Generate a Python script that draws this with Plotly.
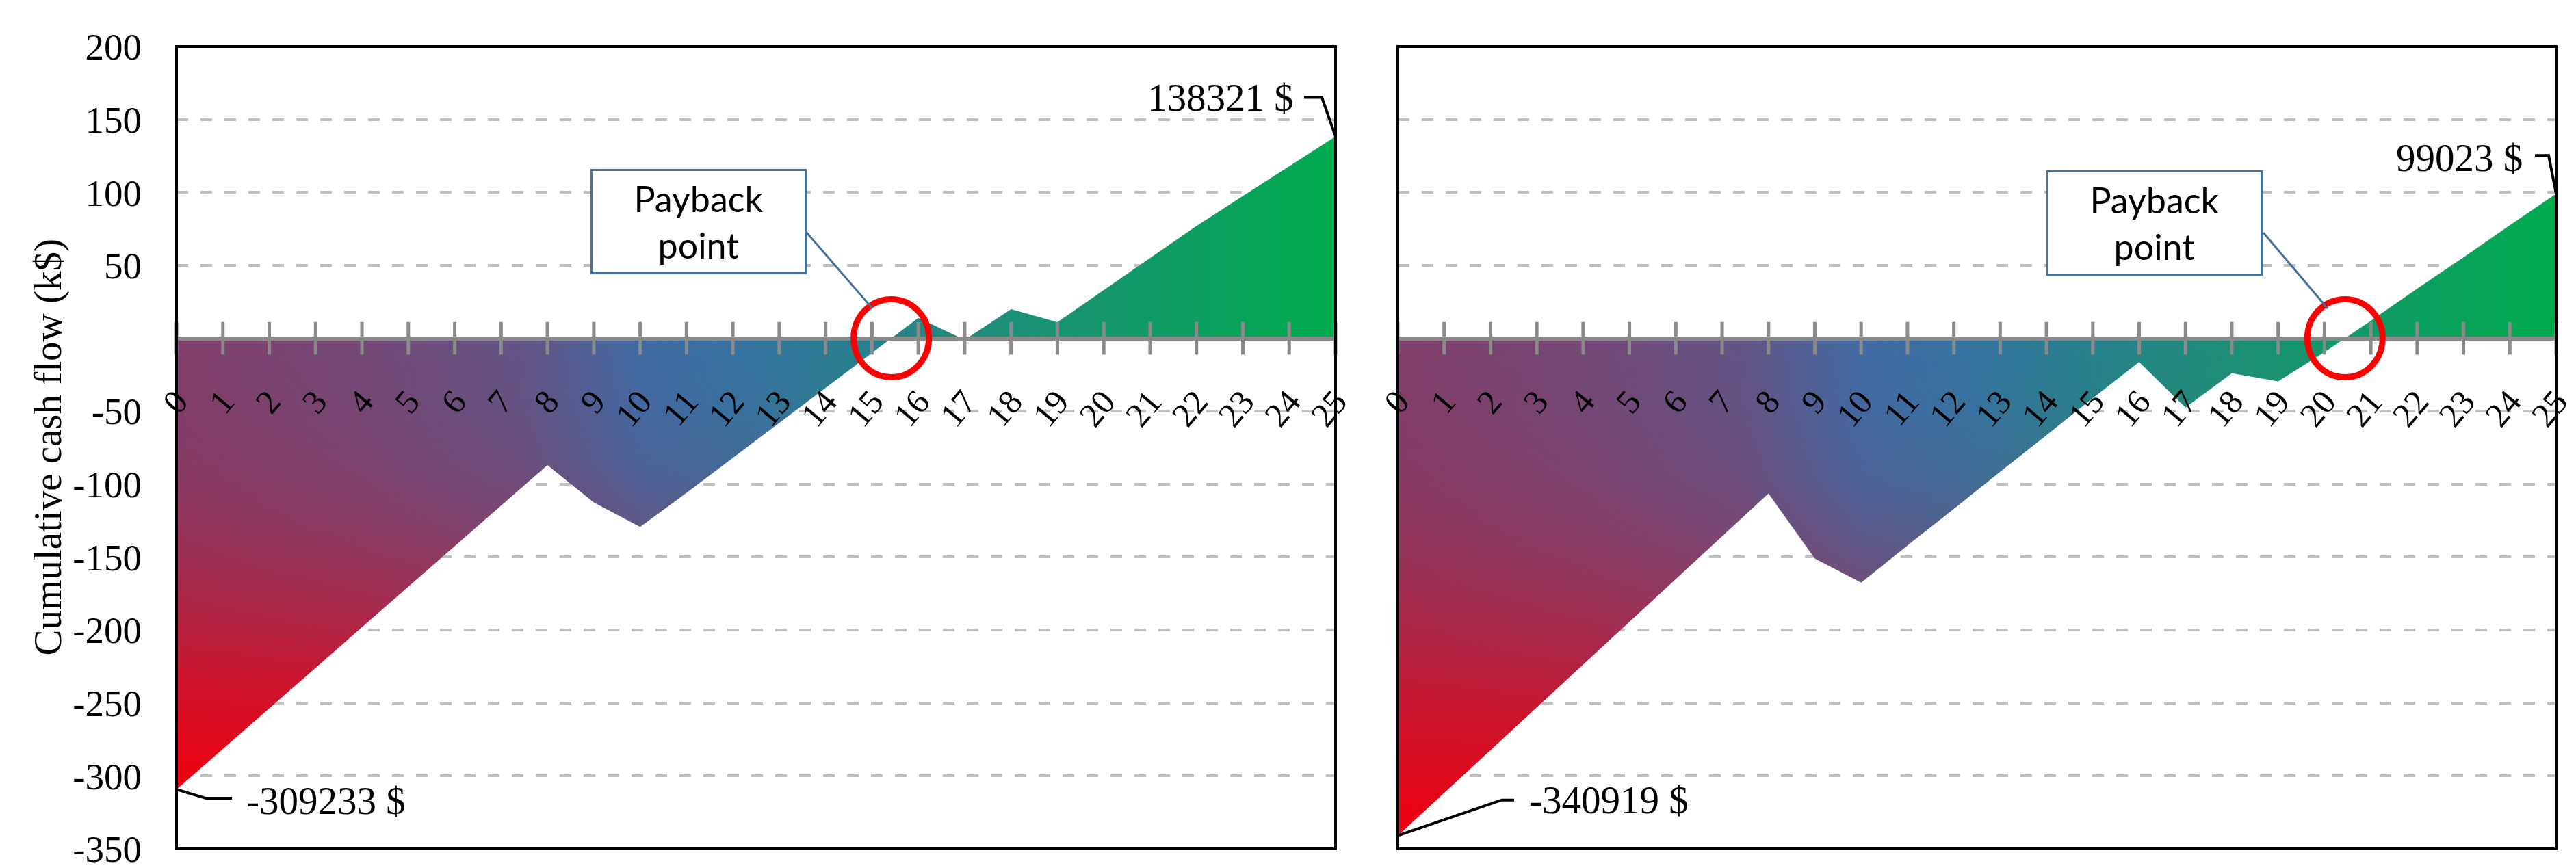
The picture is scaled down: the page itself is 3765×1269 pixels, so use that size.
import plotly.graph_objects as go

# cumulative cash flow, k$
years = list(range(26))
cash_a = [-309.233, -281.5, -253.6, -225.8, -198.0, -170.3, -142.5, -114.7, -86.9, -112.5, -129.3,
          -106.0, -82.0, -58.0, -34.0, -10.0, 14.0, -1.0, 20.0, 11.0, 33.0, 55.0, 77.0, 97.5, 118.0, 138.321]
cash_b = [-340.919, -311.6, -282.3, -253.0, -223.7, -194.4, -165.0, -135.7, -106.4, -151.0, -167.5,
          -142.0, -117.0, -91.5, -66.5, -41.0, -16.3, -47.5, -24.0, -29.5, -9.5, 12.0, 34.0, 55.5, 77.5, 99.023]
y_ticks = [200, 150, 100, 50, -50, -100, -150, -200, -250, -300, -350]

W, H = 3765, 1269
TOP, BOT = 60, 1233
PANELS = [(250, 1944), (2035, 3728)]
Y_RANGE = [-350, 200]

SERIF = "Liberation Serif"
GRID = "#c0c0c0"
AXIS = "#8a8a8a"
BOXBLUE = "#41719c"

base_scale = [
    [0.00, "rgb(128,62,106)"],
    [0.16, "rgb(116,72,118)"],
    [0.30, "rgb(98,84,134)"],
    [0.40, "rgb(64,106,163)"],
    [0.50, "rgb(52,116,160)"],
    [0.58, "rgb(40,127,143)"],
    [0.70, "rgb(30,141,122)"],
    [0.85, "rgb(15,155,100)"],
    [1.00, "rgb(0,172,78)"],
]
red_scale = [
    [0.00, "rgba(240,0,15,1.0)"],
    [0.25, "rgba(240,0,15,0.68)"],
    [0.35, "rgba(240,0,15,0.50)"],
    [0.50, "rgba(240,0,15,0.28)"],
    [0.60, "rgba(240,0,15,0.16)"],
    [0.72, "rgba(240,0,15,0.07)"],
    [0.85, "rgba(240,0,15,0.02)"],
    [1.00, "rgba(240,0,15,0.0)"],
]


def payback(xs, ys):
    # first year where the cumulative flow turns positive
    for i in range(1, len(ys)):
        if ys[i - 1] < 0 <= ys[i]:
            return xs[i - 1] + (0 - ys[i - 1]) / (ys[i] - ys[i - 1])
    return xs[-1]


fig = go.Figure()
y0f, y1f = 1 - BOT / H, 1 - TOP / H
zero_pos = y0f + (0 - Y_RANGE[0]) / (Y_RANGE[1] - Y_RANGE[0]) * (y1f - y0f)

for k, (vals, (px0, px1)) in enumerate(zip([cash_a, cash_b], PANELS)):
    sfx = "" if k == 0 else str(k + 1)
    xa, ya = "x" + sfx, "y" + sfx

    fig.add_trace(go.Scatter(
        x=years, y=vals, xaxis=xa, yaxis=ya, mode="lines", line=dict(width=0),
        fill="tozeroy",
        fillgradient=dict(type="horizontal", colorscale=base_scale, start=years[0], stop=years[-1]),
        hoverinfo="skip", showlegend=False,
    ))
    fig.add_trace(go.Scatter(
        x=years, y=vals, xaxis=xa, yaxis=ya, mode="lines", line=dict(width=0),
        fill="tozeroy",
        fillgradient=dict(type="vertical", colorscale=red_scale, start=min(vals), stop=0),
        hoverinfo="skip", showlegend=False,
    ))
    # crossing tick marks on the zero axis
    fig.add_trace(go.Scatter(
        x=years, y=[0] * len(years), xaxis=xa, yaxis=ya, mode="markers",
        marker=dict(symbol="line-ns", size=34, line=dict(width=5, color=AXIS)),
        hoverinfo="skip", showlegend=False, cliponaxis=False,
    ))

    fig.update_layout({
        "xaxis" + sfx: dict(
            domain=[px0 / W, px1 / W], range=[years[0], years[-1]], anchor="free",
            position=zero_pos, showline=True, linecolor=AXIS, linewidth=6,
            tickvals=years, ticks="", tickangle=-50, ticklabelstandoff=40,
            ticklabeloverflow="allow",
            tickfont=dict(family=SERIF, size=50, color="black"),
            showgrid=False, zeroline=False, layer="above traces", automargin=False,
        ),
        "yaxis" + sfx: dict(
            domain=[y0f, y1f], range=Y_RANGE, anchor=xa,
            tickvals=y_ticks, ticktext=[str(v) for v in y_ticks],
            ticks="", showticklabels=(k == 0), ticklabelstandoff=50,
            ticklabeloverflow="allow",
            tickfont=dict(family=SERIF, size=55, color="black"),
            showgrid=True, gridcolor=GRID, gridwidth=4, griddash="17px,18px",
            zeroline=False, showline=False, automargin=False,
        ),
    })

    # frame
    fig.add_shape(type="rect", xref=xa + " domain", yref=ya + " domain", x0=0, x1=1, y0=0, y1=1,
                  line=dict(color="black", width=4), layer="above")

    PX = (px1 - px0) / (years[-1] - years[0])
    PY = (BOT - TOP) / (Y_RANGE[1] - Y_RANGE[0])

    def off(x, y, dx, dy):
        return x + dx / PX, y - dy / PY

    # end-value labels with leaders
    if k == 0:
        s_pts, s_txt = [(43, 13), (81, 13)], (100, 16)
        e_pts, e_txt = [(-20, -57), (-46, -57)], (-59, -57)
    else:
        s_pts, s_txt = [(152, -52), (170, -52)], (190, -52)
        e_pts, e_txt = [(-11, -56), (-31, -56)], (-47, -53)

    for xi, anchor, pts, tx in [(0, "left", s_pts, s_txt), (-1, "right", e_pts, e_txt)]:
        x, y = years[xi], vals[xi]
        path = "M %f,%f" % (x, y)
        for dx, dy in pts:
            qx, qy = off(x, y, dx, dy)
            path += " L %f,%f" % (qx, qy)
        fig.add_shape(type="path", xref=xa, yref=ya, path=path,
                      line=dict(color="black", width=4), layer="above")
        fig.add_annotation(x=x, y=y, xref=xa, yref=ya, xshift=tx[0], yshift=-tx[1],
                           text="%d $" % round(vals[xi] * 1000), showarrow=False,
                           xanchor=anchor, yanchor="middle",
                           font=dict(family=SERIF, size=57, color="black"))

    # payback circle
    pb = payback(years, vals)
    fig.add_shape(type="circle", xref=xa, yref=ya, xsizemode="pixel", ysizemode="pixel",
                  xanchor=pb, yanchor=0, x0=-55, x1=55, y0=-57, y1=57,
                  line=dict(color="#ff0000", width=9), layer="above")

# payback call-out boxes (pixel positions)
for cx, cy, lx0, ly0, lx1, ly1 in [(1013, 316, 1171, 332, 1267, 443), (3141, 318, 3300, 332, 3394, 443)]:
    fig.add_annotation(x=cx / W, y=1 - cy / H, xref="paper", yref="paper", text="Payback<br>point",
                       xanchor="center", yanchor="middle",
                       showarrow=False, width=306, height=144, borderpad=2, borderwidth=3,
                       bordercolor=BOXBLUE, bgcolor="white", align="center",
                       font=dict(family="Lato", size=52, color="black"))
    fig.add_shape(type="line", xref="paper", yref="paper", x0=lx0 / W, y0=1 - ly0 / H,
                  x1=lx1 / W, y1=1 - ly1 / H, line=dict(color=BOXBLUE, width=3))

fig.add_annotation(x=61 / W, y=(y0f + y1f) / 2, xref="paper", yref="paper",
                   xanchor="center", yanchor="middle",
                   text="Cumulative cash flow (k$)", textangle=-90, showarrow=False,
                   font=dict(family=SERIF, size=57, color="black"))

fig.update_layout(template="none", width=W, height=H, margin=dict(l=0, r=0, t=0, b=0, autoexpand=False),
                  paper_bgcolor="white", plot_bgcolor="white", showlegend=False)

fig.write_html("out.html")
